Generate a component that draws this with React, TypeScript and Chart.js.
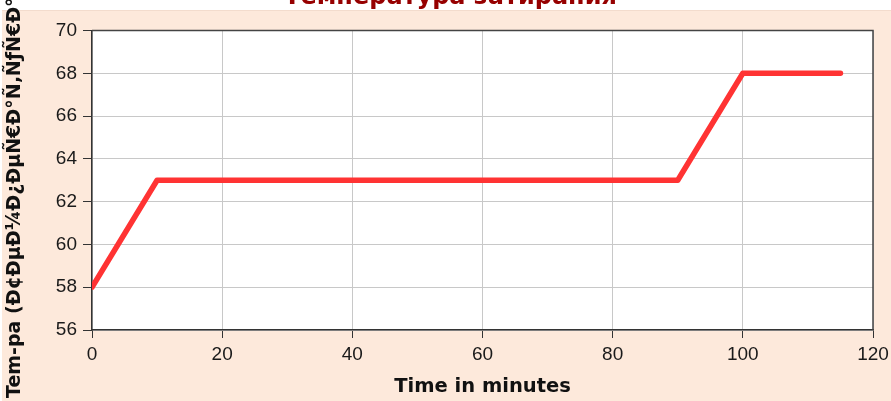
import React, { useEffect, useRef } from "react";
import { Chart, registerables } from "chart.js";

Chart.register(...registerables);

const minutes = [0, 10, 90, 100, 115];
const temperatures = [58, 63, 63, 68, 68];
const xTicks = [0, 20, 40, 60, 80, 100, 120];
const yTicks = [56, 58, 60, 62, 64, 66, 68, 70];
const chartTitle = "Температура затирания";
const xTitle = "Time in minutes";
const yTitle = "Tem-pa (Ð¢ÐµÐ¼Ð¿ÐµÑ€Ð°Ñ‚ÑƒÑ€Ð°, Â°C)";

const PEACH = "#fde9db";

const backgroundPlugin = {
  id: "bgPlugin",
  beforeDraw(chart: any) {
    const { ctx, width, height, chartArea } = chart;
    ctx.save();
    ctx.fillStyle = "#ffffff";
    ctx.fillRect(0, 0, width, height);
    ctx.fillStyle = PEACH;
    ctx.fillRect(2, 10, width - 2, height - 10);
    ctx.fillStyle = "#f3dccd";
    ctx.fillRect(2, 10, width - 2, 1);
    ctx.fillStyle = "#ffffff";
    ctx.fillRect(chartArea.left, chartArea.top, chartArea.right - chartArea.left, chartArea.bottom - chartArea.top);
    // main title, mostly cut off by the top edge
    ctx.font = "bold 24px 'DejaVu Sans'";
    ctx.fillStyle = "#960000";
    ctx.textAlign = "center";
    ctx.textBaseline = "alphabetic";
    ctx.fillText(chartTitle, (chartArea.left + chartArea.right) / 2 - 32, chartArea.top - 26.5);
    ctx.restore();
  },
  afterDraw(chart: any) {
    const { ctx, chartArea } = chart;
    ctx.save();
    ctx.strokeStyle = "#444444";
    ctx.lineWidth = 1.5;
    ctx.beginPath();
    ctx.moveTo(chartArea.left, chartArea.top);
    ctx.lineTo(chartArea.right, chartArea.top);
    ctx.lineTo(chartArea.right, chartArea.bottom);
    ctx.stroke();
    // rotated y-axis title, starting near the bottom of the canvas
    ctx.font = "bold 19px 'DejaVu Sans'";
    ctx.fillStyle = "#111111";
    ctx.textAlign = "left";
    ctx.textBaseline = "alphabetic";
    ctx.translate(chartArea.left - 72, chart.height - 3);
    ctx.rotate(-Math.PI / 2);
    ctx.fillText(yTitle, 0, 0);
    ctx.restore();
  },
};

export default function App() {
  const canvasRef = useRef<HTMLCanvasElement | null>(null);

  useEffect(() => {
    if (!canvasRef.current) return;
    const points = minutes.map((m, i) => ({ x: m, y: temperatures[i] }));
    const chart = new Chart(canvasRef.current, {
      type: "line",
      data: {
        datasets: [
          {
            data: points,
            borderColor: "#ff3333",
            borderWidth: 5.5,
            pointRadius: 0,
            tension: 0,
            borderCapStyle: "round",
            borderJoinStyle: "round",
            fill: false,
          },
        ],
      },
      options: {
        animation: false,
        responsive: false,
        maintainAspectRatio: false,
        layout: { padding: { left: 2, right: 18, top: 30.5, bottom: 0 } },
        plugins: {
          legend: { display: false },
          tooltip: { enabled: false },
          title: { display: false },
        },
        scales: {
          x: {
            type: "linear",
            min: xTicks[0],
            max: xTicks[xTicks.length - 1],
            afterBuildTicks: (scale: any) => {
              scale.ticks = xTicks.map((v) => ({ value: v }));
            },
            afterFit: (scale: any) => {
              scale.height = 71;
              scale.paddingLeft = 0;
              scale.paddingRight = 0;
            },
            ticks: {
              color: "#1a1a1a",
              font: { family: "'Liberation Sans'", size: 19 },
              padding: 5,
              maxRotation: 0,
            },
            grid: { color: "#c8c8c8", lineWidth: 1, tickColor: "#333333", tickLength: 8 },
            border: { color: "#333333", width: 1.5 },
            title: {
              display: true,
              text: xTitle,
              color: "#111111",
              font: { family: "'DejaVu Sans'", size: 19.5, weight: "bold", lineHeight: 1.2 },
              padding: { top: 0, bottom: 2 },
            },
          },
          y: {
            type: "linear",
            min: yTicks[0],
            max: yTicks[yTicks.length - 1],
            afterBuildTicks: (scale: any) => {
              scale.ticks = yTicks.map((v) => ({ value: v }));
            },
            afterFit: (scale: any) => {
              scale.width = 90;
              scale.paddingTop = 0;
              scale.paddingBottom = 0;
            },
            ticks: {
              color: "#1a1a1a",
              font: { family: "'Liberation Sans'", size: 19 },
              padding: 6,
            },
            grid: { color: "#c8c8c8", lineWidth: 1, tickColor: "#333333", tickLength: 9 },
            border: { color: "#333333", width: 1.5 },
          },
        },
      },
      plugins: [backgroundPlugin],
    });
    return () => chart.destroy();
  }, []);

  return (
    <div style={{ position: "absolute", left: 0, top: 0, width: 891, height: 401 }}>
      <canvas ref={canvasRef} width={891} height={401} style={{ display: "block", width: 891, height: 401 }} />
    </div>
  );
}
